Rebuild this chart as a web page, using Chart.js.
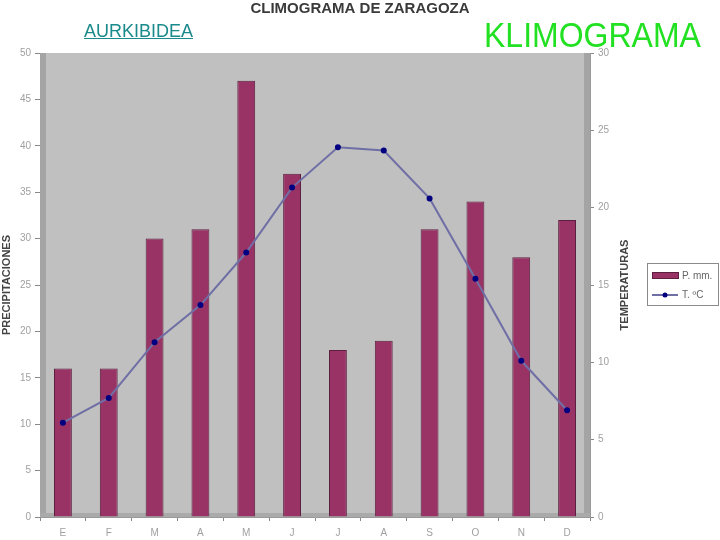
<!DOCTYPE html>
<html>
<head>
<meta charset="utf-8">
<script src="https://cdn.jsdelivr.net/npm/chart.js@4.4.1/dist/chart.umd.min.js"></script>
<style>
    body { margin: 0; background: #ffffff; font-family: "Liberation Sans", Arial, sans-serif; }
    #wrap { position: relative; width: 720px; height: 540px; }
    #aurki { position: absolute; left: 84px; top: 22px; font-size: 18px; line-height: 1; color: #1a8a8a; text-decoration: underline; }
    #klimo { position: absolute; left: 484px; top: 17px; font-size: 32px; line-height: 1; color: #22e022; transform: scaleY(1.1); transform-origin: left top; }
</style>
</head>
<body>
<div id="wrap">
    <canvas id="climoChart" width="720" height="540"></canvas>
    <div id="aurki">AURKIBIDEA</div>
    <div id="klimo">KLIMOGRAMA</div>
</div>
<script>
// month initials
const months = ["E", "F", "M", "A", "M", "J", "J", "A", "S", "O", "N", "D"];

// precipitation (mm)
const rain = [16, 16, 30, 31, 47, 37, 18, 19, 31, 34, 28, 32];

// temperature (ºC)
const temp = [6.1, 7.7, 11.3, 13.7, 17.1, 21.3, 23.9, 23.7, 20.6, 15.4, 10.1, 6.9];

const rainTicks = { min: 0, max: 50, step: 5 };
const tempTicks = { min: 0, max: 30, step: 5 };

const tickColor = "#a0a0a0";

// ==========================
// grey 3d-ish walls behind the plot
// ==========================
const wallPlugin = {
    id: "wall",
    beforeDatasetsDraw(chart) {
        const { ctx, chartArea: a } = chart;
        ctx.save();
        ctx.fillStyle = "#c0c0c0";
        ctx.fillRect(a.left, a.top, a.right - a.left, a.bottom - a.top);
        ctx.fillStyle = "#a4a4a4";
        ctx.fillRect(a.left, a.top, 6, a.bottom - a.top);
        ctx.fillRect(a.right - 6, a.top, 6, a.bottom - a.top);
        ctx.fillStyle = "#aaaaaa";
        ctx.fillRect(a.left, a.bottom - 4, a.right - a.left, 4);
        ctx.restore();
    }
};

// ==========================
// right axis title + boxed legend
// ==========================
const sidePlugin = {
    id: "side",
    afterDraw(chart) {
        const { ctx, chartArea: a } = chart;
        const mid = (a.top + a.bottom) / 2;
        ctx.save();

        ctx.translate(625, mid);
        ctx.rotate(-Math.PI / 2);
        ctx.font = "bold 11px 'Liberation Sans', Arial";
        ctx.fillStyle = "#444";
        ctx.textAlign = "center";
        ctx.textBaseline = "middle";
        ctx.fillText("TEMPERATURAS", 0, 0);
        ctx.setTransform(1, 0, 0, 1, 0, 0);

        const bars = chart.data.datasets[1];
        const line = chart.data.datasets[0];
        const bx = 647, by = 263, bw = 71, bh = 42;
        ctx.fillStyle = "#ffffff";
        ctx.fillRect(bx, by, bw, bh);
        ctx.strokeStyle = "#8a8a8a";
        ctx.lineWidth = 1;
        ctx.strokeRect(bx + 0.5, by + 0.5, bw, bh);

        ctx.fillStyle = bars.backgroundColor;
        ctx.fillRect(bx + 5, by + 9, 26, 7);
        ctx.strokeStyle = bars.borderColor;
        ctx.strokeRect(bx + 5.5, by + 9.5, 26, 6);

        ctx.strokeStyle = line.borderColor;
        ctx.lineWidth = 2;
        ctx.beginPath();
        ctx.moveTo(bx + 5, by + 32);
        ctx.lineTo(bx + 31, by + 32);
        ctx.stroke();
        ctx.fillStyle = line.pointBackgroundColor;
        ctx.beginPath();
        ctx.arc(bx + 18, by + 32, 2.5, 0, Math.PI * 2);
        ctx.fill();

        ctx.font = "10px 'Liberation Sans', Arial";
        ctx.fillStyle = "#666";
        ctx.textAlign = "left";
        ctx.textBaseline = "middle";
        ctx.fillText(bars.label, bx + 35, by + 13);
        ctx.fillText(line.label, bx + 35, by + 32);
        ctx.restore();
    }
};

new Chart(document.getElementById("climoChart"), {

    type: "bar",

    data: {
        labels: months,
        datasets: [
            {
                type: "line",
                label: "T. ºC",
                data: temp,
                yAxisID: "yT",
                order: 0,
                borderColor: "#6f6fa6",
                borderWidth: 2,
                pointBackgroundColor: "#000080",
                pointBorderColor: "#000080",
                pointRadius: 2,
                tension: 0
            },
            {
                label: "P. mm.",
                data: rain,
                yAxisID: "yP",
                order: 1,
                backgroundColor: "#993366",
                borderColor: "#5c1f3f",
                borderWidth: 1,
                categoryPercentage: 1,
                barPercentage: 0.39
            }
        ]
    },

    plugins: [wallPlugin, sidePlugin],

    options: {
        responsive: false,
        animation: false,
        layout: { padding: 0 },

        scales: {
            x: {
                afterFit: s => { s.height = 23; },
                grid: { drawOnChartArea: false, tickLength: 4, color: "#888" },
                border: { color: "#999" },
                ticks: { color: tickColor, font: { size: 10 }, padding: 6 }
            },
            yP: {
                position: "left",
                min: rainTicks.min,
                max: rainTicks.max,
                afterFit: s => { s.width = 40; },
                grid: { drawOnChartArea: false, tickLength: 5, color: "#888" },
                border: { color: "#999" },
                ticks: { stepSize: rainTicks.step, color: tickColor, font: { size: 10 }, padding: 4 },
                title: {
                    display: true,
                    text: "PRECIPITACIONES",
                    color: "#444",
                    font: { size: 11, weight: "bold" },
                    padding: 0
                }
            },
            yT: {
                position: "right",
                min: tempTicks.min,
                max: tempTicks.max,
                afterFit: s => { s.width = 130; },
                grid: { drawOnChartArea: false, tickLength: 4, color: "#888" },
                border: { color: "#999" },
                ticks: { stepSize: tempTicks.step, color: tickColor, font: { size: 10 }, padding: 4 }
            }
        },

        plugins: {
            legend: { display: false },
            tooltip: { enabled: false },
            title: {
                display: true,
                text: "CLIMOGRAMA DE ZARAGOZA",
                color: "#3a3a3a",
                font: { size: 15, weight: "bold" },
                padding: { top: 0, bottom: 35 }
            }
        }
    }

});
</script>
</body>
</html>
